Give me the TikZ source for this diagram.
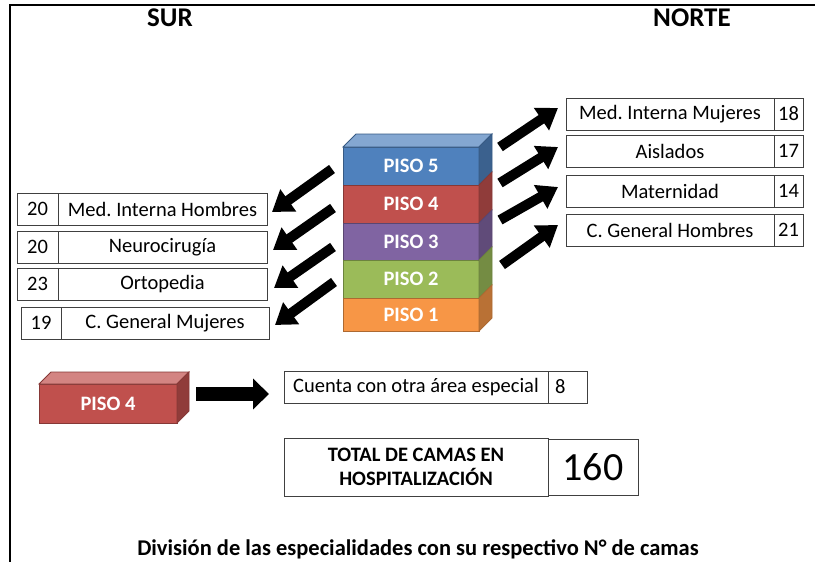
\documentclass[tikz,border=0pt]{standalone}
\usepackage{fontspec}
\setmainfont{Carlito}
\usetikzlibrary{positioning}
\usetikzlibrary{arrows.meta}
\usetikzlibrary{calc}

\definecolor{pisoA}{HTML}{F79646}
\definecolor{pisoB}{HTML}{9BBB59}
\definecolor{pisoC}{HTML}{8064A2}
\definecolor{pisoD}{HTML}{C0504D}
\definecolor{pisoE}{HTML}{4F81BD}

\newcommand{\boxfont}{\fontsize{20.5}{24}\selectfont}
\frenchspacing

\tikzset{
	cell/.style={draw=black!75, line width=0.9pt, inner sep=0pt, outer sep=0pt, minimum height=32pt, font=\boxfont},
	piso/.style={draw=#1!70!black, fill=#1, line width=0.8pt, text=white, font=\boxfont\bfseries, minimum width=136pt, minimum height=38pt, inner sep=0pt, outer sep=0pt},
	bigarrow/.style={line width=10pt, -{Triangle[length=20pt,width=26pt]}},
}

\begin{document}
\begin{tikzpicture}[x=1pt, y=-1pt]
	\useasboundingbox (0,0) rectangle (815,562);
	
	%%%% frame %%%%
	\draw[line width=2pt] (10,563) -- (10,5) -- (816,5);
	
	\node[font=\fontsize{27}{30}\selectfont\bfseries] (sur) at (170,18) {SUR};
	\node[font=\fontsize{27}{30}\selectfont\bfseries] (norte) at (692,18) {NORTE};
	
	%%%% stack of floors %%%%
	
	\node[piso=pisoE] (p5) at (411,166) {PISO 5};
	\node[piso=pisoD, minimum height=38pt] (p4) at (411,204) {PISO 4};
	\node[piso=pisoC, minimum height=37pt] (p3) at (411,241.5) {PISO 3};
	\node[piso=pisoB, minimum height=38pt] (p2) at (411,279) {PISO 2};
	\node[piso=pisoA, minimum height=33pt] (p1) at (411,314.5) {PISO 1};
	
	\filldraw[fill=pisoE!70!white, draw=pisoE!70!black, line width=0.8pt] (p5.north west) -- ++(13,-13) -- ($(p5.north east)+(13,-13)$) -- (p5.north east) -- cycle;
	\filldraw[fill=pisoE!75!black, draw=pisoE!70!black, line width=0.8pt] (p5.north east) -- ++(13,-13) -- ($(p5.south east)+(13,-13)$) -- (p5.south east) -- cycle;
	\filldraw[fill=pisoD!75!black, draw=pisoD!70!black, line width=0.8pt] (p4.north east) -- ++(13,-13) -- ($(p4.south east)+(13,-13)$) -- (p4.south east) -- cycle;
	\filldraw[fill=pisoC!75!black, draw=pisoC!70!black, line width=0.8pt] (p3.north east) -- ++(13,-13) -- ($(p3.south east)+(13,-13)$) -- (p3.south east) -- cycle;
	\filldraw[fill=pisoB!75!black, draw=pisoB!70!black, line width=0.8pt] (p2.north east) -- ++(13,-13) -- ($(p2.south east)+(13,-13)$) -- (p2.south east) -- cycle;
	\filldraw[fill=pisoA!75!black, draw=pisoA!70!black, line width=0.8pt] (p1.north east) -- ++(13,-13) -- ($(p1.south east)+(13,-13)$) -- (p1.south east) -- cycle;
	
	%%%% south side %%%%
	
	\node[cell, minimum width=41pt] (s1) at (37.5,209) {20};
	\node[cell, minimum width=209pt, right=0pt of s1] (mih) {Med. Interna Hombres};
	\node[cell, minimum width=41pt] (s2) at (37.5,247) {20};
	\node[cell, minimum width=209pt, right=0pt of s2] (neu) {Neurocirugía};
	\node[cell, minimum width=41pt] (s3) at (37.5,284) {23};
	\node[cell, minimum width=209pt, right=0pt of s3] (ort) {Ortopedia};
	\node[cell, minimum width=40pt] (s4) at (41,323) {19};
	\node[cell, minimum width=208pt, right=0pt of s4] (cgm) {C. General Mujeres};
	
	\coordinate (tl1) at (332,169);
	\coordinate (tl2) at (333,208);
	\coordinate (tl3) at (333,247);
	\coordinate (tl4) at (334,282);
	
	\draw[bigarrow] (tl1) -- ([xshift=5pt,yshift=-3pt]mih.east);
	\draw[bigarrow] (tl2) -- ([xshift=6pt,yshift=-3pt]neu.east);
	\draw[bigarrow] (tl3) -- ([xshift=7pt,yshift=-4pt]ort.east);
	\draw[bigarrow] (tl4) -- ([xshift=6pt,yshift=-2pt]cgm.east);
	
	%%%% north side %%%%
	
	\node[cell, minimum width=208pt] (mim) at (670,114) {Med. Interna Mujeres};
	\node[cell, minimum width=29pt, right=0pt of mim] (n1) {18};
	\node[cell, minimum width=208pt] (ais) at (670,151) {Aislados};
	\node[cell, minimum width=29pt, right=0pt of ais] (n2) {17};
	\node[cell, minimum width=208pt] (mat) at (670,191) {Maternidad};
	\node[cell, minimum width=29pt, right=0pt of mat] (n3) {14};
	\node[cell, minimum width=208pt] (cgh) at (670,230) {C. General Hombres};
	\node[cell, minimum width=29pt, right=0pt of cgh] (n4) {21};
	
	\coordinate (tr1) at (500,147);
	\coordinate (tr2) at (500,183);
	\coordinate (tr3) at (500,220);
	\coordinate (tr4) at (502,265);
	
	\draw[bigarrow] (tr1) -- ([xshift=-8pt,yshift=6pt]mim.west);
	\draw[bigarrow] (tr2) -- ([xshift=-8pt,yshift=4pt]ais.west);
	\draw[bigarrow] (tr3) -- ([xshift=-8pt,yshift=4pt]mat.west);
	\draw[bigarrow] (tr4) -- ([xshift=-8pt,yshift=5pt]cgh.west);
	
	%%%% piso 4, special area %%%%
	
	\node[piso=pisoD, minimum width=138pt, minimum height=39pt] (pb) at (108,403.5) {PISO 4};
	\filldraw[fill=pisoD!70!white, draw=pisoD!70!black, line width=0.8pt] (pb.north west) -- ++(12,-12) -- ($(pb.north east)+(12,-12)$) -- (pb.north east) -- cycle;
	\filldraw[fill=pisoD!75!black, draw=pisoD!70!black, line width=0.8pt] (pb.north east) -- ++(12,-12) -- ($(pb.south east)+(12,-12)$) -- (pb.south east) -- cycle;
	
	\node[cell, minimum width=264pt] (cta) at (416,387) {Cuenta con otra área especial};
	\node[cell, text width=25pt, inner xsep=7pt, align=left, right=0pt of cta] (n8) {8};
	
	\coordinate (ta) at (196,394);
	\draw[line width=14pt, -{Triangle[length=16pt,width=30pt]}, shorten >=15pt] (ta) -- (ta -| cta.west);
	
	%%%% total %%%%
	
	\node[cell, minimum width=264pt, minimum height=58pt, align=center, font=\boxfont\bfseries] (tot) at (416,467) {TOTAL DE CAMAS EN\\HOSPITALIZACIÓN};
	\node[cell, minimum width=90pt, minimum height=56pt, font=\fontsize{40}{42}\selectfont, right=0pt of tot] (ntot) {160};
	
	\node[font=\fontsize{22.5}{26}\selectfont\bfseries] (cap) at (418,549) {División de las especialidades con su respectivo N° de camas};
	
\end{tikzpicture}
\end{document}
